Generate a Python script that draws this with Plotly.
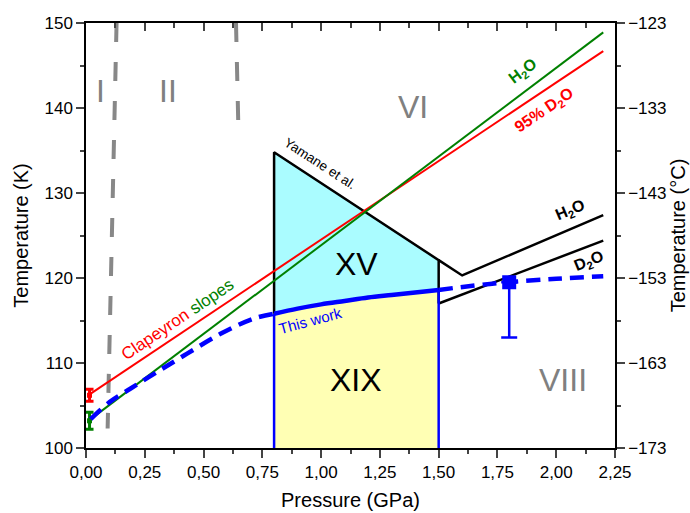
import plotly.graph_objects as go

FONT = "Liberation Sans, Arial, sans-serif"

# ---- data ----
x_ticks = [0, 0.25, 0.5, 0.75, 1.0, 1.25, 1.5, 1.75, 2.0, 2.25]
x_ticktext = ["0,00", "0,25", "0,50", "0,75", "1,00", "1,25", "1,50", "1,75", "2,00", "2,25"]

# Clapeyron slopes
h2o_P = [0.02, 2.20]
h2o_T = [103.4, 148.9]
d2o_P = [0.02, 2.20]
d2o_T = [106.4, 146.7]
h2o_err_P = [0.015]
h2o_err_T = [103.2]
h2o_err = [1.0]
d2o_err_P = [0.015]
d2o_err_T = [106.2]
d2o_err = [0.7]

# This work (blue)
blue_dash1_P = [0.02, 0.10, 0.19, 0.30, 0.43, 0.57, 0.71, 0.80]
blue_dash1_T = [103.4, 105.4, 107.0, 108.9, 111.1, 113.4, 115.2, 115.8]
blue_solid_P = [0.80, 0.90, 1.00, 1.10, 1.20, 1.30, 1.40, 1.50]
blue_solid_T = [115.8, 116.4, 116.9, 117.3, 117.7, 118.0, 118.3, 118.6]
blue_dash2_P = [1.50, 1.75, 2.00, 2.20]
blue_dash2_T = [118.6, 119.4, 119.9, 120.2]
blue_pt_P = [1.80]
blue_pt_T = [119.5]
blue_pt_errminus = [6.5]

# Yamane et al. boundaries
yam_P = [0.80, 0.80, 1.50, 1.50]
yam_T = [115.8, 134.8, 122.1, 117.0]
yam_h2o_P = [1.50, 1.60, 2.20]
yam_h2o_T = [122.1, 120.3, 127.4]
yam_d2o_P = [1.50, 2.20]
yam_d2o_T = [117.0, 124.4]
xix_left_P = [0.80, 0.80]
xix_left_T = [100.0, 115.8]
xix_right_P = [1.50, 1.50]
xix_right_T = [100.0, 118.6]

# gray phase boundaries
gray1_P = [0.13, 0.092]
gray1_T = [150.0, 102.3]
gray2_P = [0.638, 0.648]
gray2_T = [150.0, 137.8]

# region labels
reg_labels = ["I", "II", "VI", "XV", "XIX", "VIII"]
reg_P = [0.06, 0.35, 1.39, 1.15, 1.15, 2.03]
reg_T = [142.0, 142.0, 140.1, 121.6, 108.0, 108.0]
reg_colors = ["gray", "gray", "gray", "black", "black", "gray"]

fig = go.Figure()

# fills
fig.add_trace(go.Scatter(
    x=[yam_P[1]] + blue_solid_P + [yam_P[2]],
    y=[yam_T[1]] + blue_solid_T + [yam_T[2]],
    fill="toself", fillcolor="#aafcff", line=dict(width=0), mode="lines",
    hoverinfo="skip", showlegend=False))
fig.add_trace(go.Scatter(
    x=[xix_left_P[0]] + blue_solid_P + [xix_right_P[0]],
    y=[xix_left_T[0]] + blue_solid_T + [xix_right_T[0]],
    fill="toself", fillcolor="#ffffb4", line=dict(width=0), mode="lines",
    hoverinfo="skip", showlegend=False))

# gray dashed boundaries
for px, py in [(gray1_P, gray1_T), (gray2_P, gray2_T)]:
    fig.add_trace(go.Scatter(x=px, y=py, mode="lines",
                             line=dict(color="#888888", width=4, dash="19px,20px"),
                             showlegend=False))

# black Yamane lines
fig.add_trace(go.Scatter(x=yam_P, y=yam_T, mode="lines",
                         line=dict(color="black", width=2.5), showlegend=False))
fig.add_trace(go.Scatter(x=yam_h2o_P, y=yam_h2o_T, mode="lines",
                         line=dict(color="black", width=2.5), showlegend=False))
fig.add_trace(go.Scatter(x=yam_d2o_P, y=yam_d2o_T, mode="lines",
                         line=dict(color="black", width=2.5), showlegend=False))

# blue verticals
for px, py in [(xix_left_P, xix_left_T), (xix_right_P, xix_right_T)]:
    fig.add_trace(go.Scatter(x=px, y=py, mode="lines",
                             line=dict(color="#0000ff", width=2.5), showlegend=False))

# Clapeyron lines
fig.add_trace(go.Scatter(x=d2o_P, y=d2o_T, mode="lines",
                         line=dict(color="#ff0000", width=2), showlegend=False))
fig.add_trace(go.Scatter(x=h2o_P, y=h2o_T, mode="lines",
                         line=dict(color="#008000", width=2), showlegend=False))
fig.add_trace(go.Scatter(x=d2o_err_P, y=d2o_err_T, mode="markers",
                         marker=dict(color="#ff0000", size=5, symbol="square"),
                         error_y=dict(type="data", array=d2o_err, color="#ff0000",
                                      thickness=3, width=4),
                         showlegend=False))
fig.add_trace(go.Scatter(x=h2o_err_P, y=h2o_err_T, mode="markers",
                         marker=dict(color="#008000", size=5, symbol="square"),
                         error_y=dict(type="data", array=h2o_err, color="#008000",
                                      thickness=3, width=4),
                         showlegend=False))

# blue this-work
fig.add_trace(go.Scatter(x=blue_dash1_P, y=blue_dash1_T, mode="lines",
                         line=dict(color="#0000ff", width=4.5, dash="14px,8px", shape="spline"),
                         showlegend=False))
fig.add_trace(go.Scatter(x=blue_solid_P, y=blue_solid_T, mode="lines",
                         line=dict(color="#0000ff", width=4.5, shape="spline"),
                         showlegend=False))
fig.add_trace(go.Scatter(x=blue_dash2_P, y=blue_dash2_T, mode="lines",
                         line=dict(color="#0000ff", width=4.5, dash="14px,8px", shape="spline"),
                         showlegend=False))
fig.add_trace(go.Scatter(x=blue_pt_P, y=blue_pt_T, mode="markers",
                         marker=dict(color="#0000ff", size=14, symbol="square"),
                         error_y=dict(type="data", symmetric=False, array=[0],
                                      arrayminus=blue_pt_errminus, color="#0000ff",
                                      thickness=2.5, width=8),
                         showlegend=False))

# dummy traces for secondary axes
fig.add_trace(go.Scatter(x=[1.0], y=[-150], yaxis="y2", mode="markers",
                         marker=dict(opacity=0), hoverinfo="skip", showlegend=False))
fig.add_trace(go.Scatter(x=[1.0], y=[120], xaxis="x2", mode="markers",
                         marker=dict(opacity=0), hoverinfo="skip", showlegend=False))

# region labels
for lab, px, py, c in zip(reg_labels, reg_P, reg_T, reg_colors):
    fig.add_annotation(x=px, y=py, text=lab, showarrow=False,
                       font=dict(family=FONT, size=32, color=c))

# rotated annotations
fig.add_annotation(x=1.86, y=144.3, text="<b>H<sub>2</sub>O</b>", showarrow=False,
                   textangle=-37, font=dict(family=FONT, size=16, color="#008000"))
fig.add_annotation(x=1.95, y=139.7, text="<b>95% D<sub>2</sub>O</b>", showarrow=False,
                   textangle=-34, font=dict(family=FONT, size=16, color="#ff0000"))
fig.add_annotation(x=2.06, y=128.0, text="<b>H<sub>2</sub>O</b>", showarrow=False,
                   textangle=-23, font=dict(family=FONT, size=16, color="black"))
fig.add_annotation(x=2.14, y=121.9, text="<b>D<sub>2</sub>O</b>", showarrow=False,
                   textangle=-22, font=dict(family=FONT, size=16, color="black"))
fig.add_annotation(x=0.995, y=133.5, text="Yamane et al.", showarrow=False,
                   textangle=33, font=dict(family=FONT, size=13.5, color="black"))
fig.add_annotation(x=0.39, y=115.1,
                   text="<span style='color:#ff0000'>Clapeyron </span><span style='color:#008000'>slopes</span>",
                   showarrow=False, textangle=-34, font=dict(family=FONT, size=17))
fig.add_annotation(x=0.955, y=115.0, text="This work", showarrow=False,
                   textangle=-15, font=dict(family=FONT, size=15, color="#0000ff"))

fig.update_layout(
    width=690, height=513,
    margin=dict(l=86, r=75, t=23, b=65, autoexpand=False),
    plot_bgcolor="white", paper_bgcolor="white",
    font=dict(family=FONT, size=17, color="black"),
    showlegend=False,
    xaxis=dict(range=[0, 2.25], tickvals=x_ticks, ticktext=x_ticktext, automargin=False,
               ticks="outside", ticklen=8, tickwidth=1.5, linecolor="black", linewidth=1.5,
               showgrid=False, zeroline=False,
               minor=dict(ticks="outside", ticklen=4, tickwidth=1.5, dtick=0.125, tick0=0),
               title=dict(text="Pressure (GPa)", font=dict(size=20), standoff=12),
               tickfont=dict(size=17)),
    xaxis2=dict(range=[0, 2.25], overlaying="x", side="top", ticks="inside", automargin=False,
                tickmode="linear", tick0=0, dtick=0.25, ticklen=8, tickwidth=1.5,
                minor=dict(ticks="inside", ticklen=5, tickwidth=1.5, dtick=0.125, tick0=0),
                showticklabels=False, showline=True, linecolor="black", linewidth=1.5,
                showgrid=False, zeroline=False),
    yaxis=dict(range=[100, 150], tickmode="linear", tick0=100, dtick=10, automargin=False,
               ticks="outside", ticklen=8, tickwidth=1.5, linecolor="black", linewidth=1.5,
               showgrid=False, zeroline=False,
               minor=dict(ticks="outside", ticklen=4, tickwidth=1.5, dtick=5),
               title=dict(text="Temperature (K)", font=dict(size=20), standoff=10),
               tickfont=dict(size=17)),
    yaxis2=dict(range=[-173, -123], overlaying="y", side="right", tickmode="linear",
                automargin=False,
                tick0=-123, dtick=10, ticks="outside", ticklen=8, tickwidth=1.5,
                linecolor="black", linewidth=1.5, showline=True,
                showgrid=False, zeroline=False,
                minor=dict(ticks="outside", ticklen=4, tickwidth=1.5, dtick=5, tick0=-123),
                title=dict(text="Temperature (°C)", font=dict(size=20), standoff=6),
                tickfont=dict(size=17)),
)

fig.write_html("out.html", config={"displayModeBar": False},
               post_script="document.body.style.margin='0px';document.body.style.overflow='hidden';")
